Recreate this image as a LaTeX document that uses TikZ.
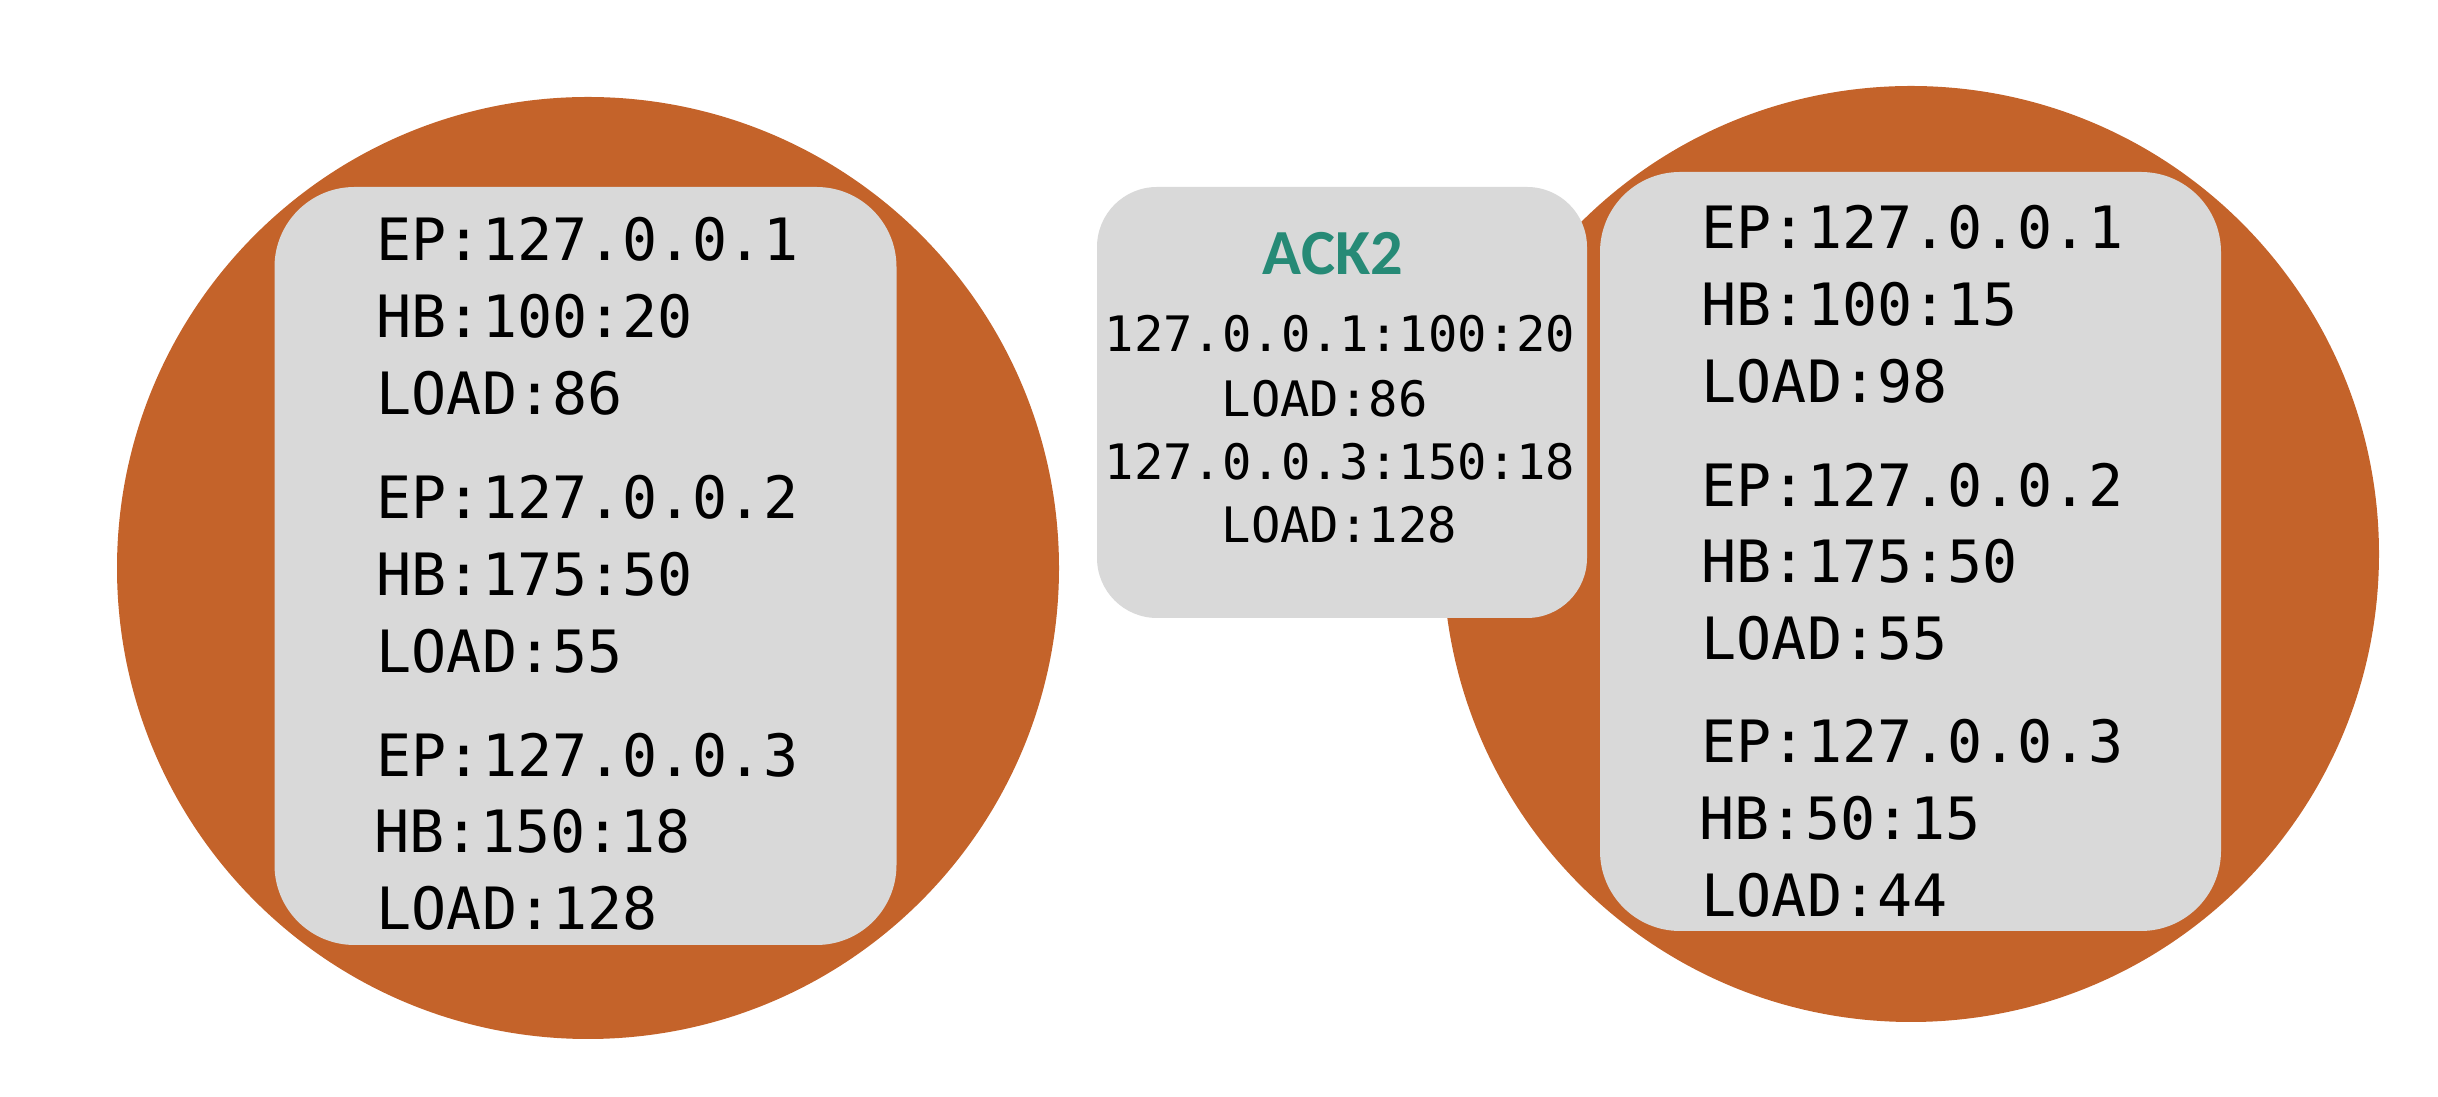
\documentclass[tikz,border=0pt]{standalone}
\usepackage{fontspec}
\newfontfamily\monofont{DejaVu Sans Mono}
\newfontfamily\ackfont{Carlito}

\definecolor{rust}{RGB}{196,99,42}
\definecolor{panel}{RGB}{217,217,217}
\definecolor{ackgreen}{RGB}{38,138,118}

\tikzset{
  peer/.style={circle, fill=rust, inner sep=0pt},
  table/.style={rectangle, fill=panel, rounded corners=0.8cm, inner sep=0pt},
  entry/.style={anchor=base west, inner sep=0pt, font=\monofont\fontsize{16.6}{19}\selectfont},
  msg/.style={anchor=base, inner sep=0pt, font=\monofont\fontsize{13.9}{16}\selectfont}
}

\begin{document}
\begin{tikzpicture}
      \useasboundingbox (0,0) rectangle (24.38,10.97);

      \node[peer, minimum size=9.42cm] (L) at (5.88,5.29) {};
      \node[table, minimum width=6.22cm, minimum height=7.58cm] (LB) at (5.855,5.31) {};
      \node[peer, minimum size=9.36cm] (R) at (19.11,5.43) {};
      \node[table, minimum width=6.21cm, minimum height=7.59cm] (RB) at (19.105,5.455) {};
      \node[table, rounded corners=0.6cm, minimum width=4.9cm, minimum height=4.31cm] (A) at (13.42,6.945) {};

      \node[entry] (L1) at (3.76,8.36) {EP:127.0.0.1};
      \node[entry] (L2) at (3.76,7.59) {HB:100:20};
      \node[entry] (L3) at (3.76,6.82) {LOAD:86};
      \node[entry] (L4) at (3.76,5.78) {EP:127.0.0.2};
      \node[entry] (L5) at (3.76,5.01) {HB:175:50};
      \node[entry] (L6) at (3.76,4.24) {LOAD:55};
      \node[entry] (L7) at (3.76,3.20) {EP:127.0.0.3};
      \node[entry] (L8) at (3.74,2.44) {HB:150:18};
      \node[entry] (L9) at (3.76,1.67) {LOAD:128};

      \node[entry] (R1) at (17.01,8.48) {EP:127.0.0.1};
      \node[entry] (R2) at (17.01,7.71) {HB:100:15};
      \node[entry] (R3) at (17.01,6.94) {LOAD:98};
      \node[entry] (R4) at (17.01,5.90) {EP:127.0.0.2};
      \node[entry] (R5) at (17.01,5.14) {HB:175:50};
      \node[entry] (R6) at (17.01,4.37) {LOAD:55};
      \node[entry] (R7) at (17.01,3.34) {EP:127.0.0.3};
      \node[entry] (R8) at (16.99,2.57) {HB:50:15};
      \node[entry] (R9) at (17.01,1.80) {LOAD:44};

      \node[anchor=base, inner sep=0pt, text=ackgreen, font=\ackfont\bfseries\fontsize{18.3}{21}\selectfont] (A0) at (13.33,8.22) {ACK2};
      \node[msg] (A1) at (13.40,7.45) {127.0.0.1:100:20};
      \node[msg, anchor=base west] (A2) at (12.21,6.80) {LOAD:86};
      \node[msg] (A3) at (13.40,6.17) {127.0.0.3:150:18};
      \node[msg, anchor=base west] (A4) at (12.21,5.54) {LOAD:128};
\end{tikzpicture}
\end{document}
